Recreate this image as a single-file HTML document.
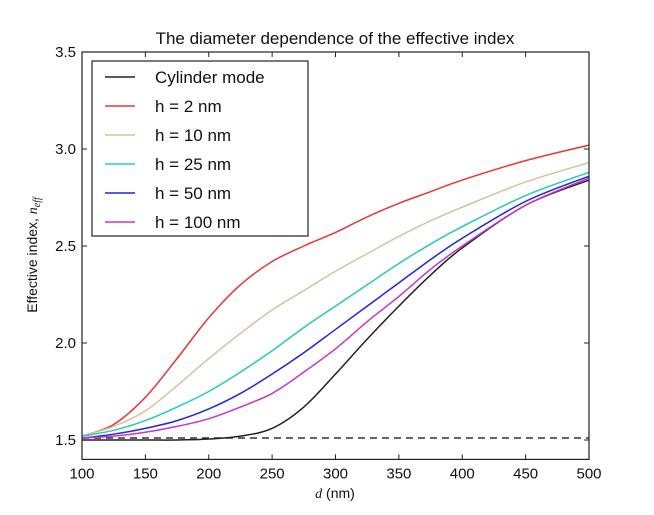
<!DOCTYPE html>
<html><head><meta charset="utf-8"><style>
body{margin:0;background:#fff;width:654px;height:510px;overflow:hidden}
svg text{font-family:"Liberation Sans","DejaVu Sans",sans-serif;fill:#111}
</style></head><body>
<svg id="chart" width="654" height="510" xmlns="http://www.w3.org/2000/svg">
<rect x="0" y="0" width="654" height="510" fill="#fff"/>
<g id="plot"></g>
</svg>
<script>
const xs = [100,125,150,175,200,225,250,275,300,325,350,375,400,450,500];
const names = ["Cylinder mode","h = 2 nm","h = 10 nm","h = 25 nm","h = 50 nm","h = 100 nm"];
const colors = ["#222222","#ee3333","#d8c29a","#22ccbb","#2222ee","#cc33cc"];
const cylinder = [1.50,1.50,1.50,1.50,1.505,1.52,1.56,1.67,1.84,2.02,2.19,2.35,2.49,2.71,2.84];
const h2 = [1.52,1.58,1.72,1.92,2.13,2.30,2.42,2.50,2.57,2.65,2.72,2.78,2.84,2.94,3.02];
const h10 = [1.52,1.57,1.65,1.78,1.92,2.05,2.17,2.27,2.37,2.46,2.55,2.63,2.70,2.83,2.93];
const h25 = [1.52,1.55,1.60,1.67,1.75,1.85,1.96,2.08,2.19,2.30,2.41,2.51,2.60,2.76,2.88];
const h50 = [1.51,1.53,1.56,1.60,1.66,1.74,1.84,1.95,2.07,2.19,2.31,2.43,2.54,2.73,2.86];
const h100 = [1.51,1.52,1.54,1.57,1.61,1.67,1.74,1.85,1.97,2.11,2.24,2.38,2.50,2.71,2.85];
const series = [cylinder,h2,h10,h25,h50,h100];
const seriesNames = ["cylinder-mode-line","h2-line","h10-line","h25-line","h50-line","h100-line"];
const xTicks = [100,150,200,250,300,350,400,450,500];
const yTicks = [1.5,2.0,2.5,3.0,3.5];
const refLine = 1.51;

const X0=82,X1=589,Y0=459.4,Y1=52;
const xS=v=>X0+(v-100)/400*(X1-X0);
const yS=v=>Y0-(v-1.4)/2.1*(Y0-Y1);
const NS="http://www.w3.org/2000/svg";
const g=document.getElementById('plot');
function mk(t,a,p){const e=document.createElementNS(NS,t);for(const k in a)e.setAttribute(k,a[k]);(p||g).appendChild(e);return e;}
function pathD(px,py){let d=`M${px[0]},${py[0]}`;for(let i=0;i<px.length-1;i++){const x0=px[Math.max(i-1,0)],y0=py[Math.max(i-1,0)],x1=px[i],y1=py[i],x2=px[i+1],y2=py[i+1],x3=px[Math.min(i+2,px.length-1)],y3=py[Math.min(i+2,px.length-1)];d+=` C${x1+(x2-x0)/6},${y1+(y2-y0)/6} ${x2-(x3-x1)/6},${y2-(y3-y1)/6} ${x2},${y2}`;}return d;}

const dash=mk('line',{x1:X0,x2:X1,y1:yS(refLine),y2:yS(refLine),stroke:'#333','stroke-width':1.5,'stroke-dasharray':'7,5'});


series.forEach((s,i)=>{
 const p=mk('path',{d:pathD(xs.map(xS),s.map(yS)),fill:'none',stroke:colors[i],'stroke-width':1.5});
 
 
});
const frame=mk('rect',{x:X0,y:Y1,width:X1-X0,height:Y0-Y1,fill:'none',stroke:'#222','stroke-width':1.2});


xTicks.forEach(v=>{
 mk('line',{x1:xS(v),x2:xS(v),y1:Y0,y2:Y0-5,stroke:'#222'});
 mk('line',{x1:xS(v),x2:xS(v),y1:Y1,y2:Y1+5,stroke:'#222'});
 const t=mk('text',{x:xS(v),y:Y0+19,'text-anchor':'middle','font-size':15});t.textContent=v;
 
 
});
yTicks.forEach(v=>{
 mk('line',{x1:X0,x2:X0+5,y1:yS(v),y2:yS(v),stroke:'#222'});
 mk('line',{x1:X1,x2:X1-5,y1:yS(v),y2:yS(v),stroke:'#222'});
 const t=mk('text',{x:X0-6,y:yS(v)+5,'text-anchor':'end','font-size':15});t.textContent=v.toFixed(1);
 
 
});
const title=mk('text',{x:335,y:44,'text-anchor':'middle','font-size':17});title.textContent='The diameter dependence of the effective index';


const xl=mk('text',{x:335,y:498,'text-anchor':'middle','font-size':14});
xl.innerHTML='<tspan font-family="Liberation Serif" font-style="italic">d</tspan> (nm)';


const yl=mk('text',{x:0,y:0,'text-anchor':'middle','font-size':14,transform:'translate(37,255) rotate(-90)'});
yl.innerHTML='Effective index, <tspan font-family="Liberation Serif" font-style="italic">n</tspan><tspan font-family="Liberation Serif" font-style="italic" font-size="10" dy="3">eff</tspan>';


const leg=mk('g',{});


mk('rect',{x:92,y:61,width:216,height:175,fill:'#fff',stroke:'#222','stroke-width':1.2},leg);
names.forEach((n,i)=>{
 const y=77+i*29;
 const e=mk('g',{},leg);
 
 
 mk('line',{x1:105,x2:135,y1:y,y2:y,stroke:colors[i],'stroke-width':1.5},e);
 const t=mk('text',{x:155,y:y+6,'font-size':17},e);t.textContent=n;
});
</script>
</body></html>
